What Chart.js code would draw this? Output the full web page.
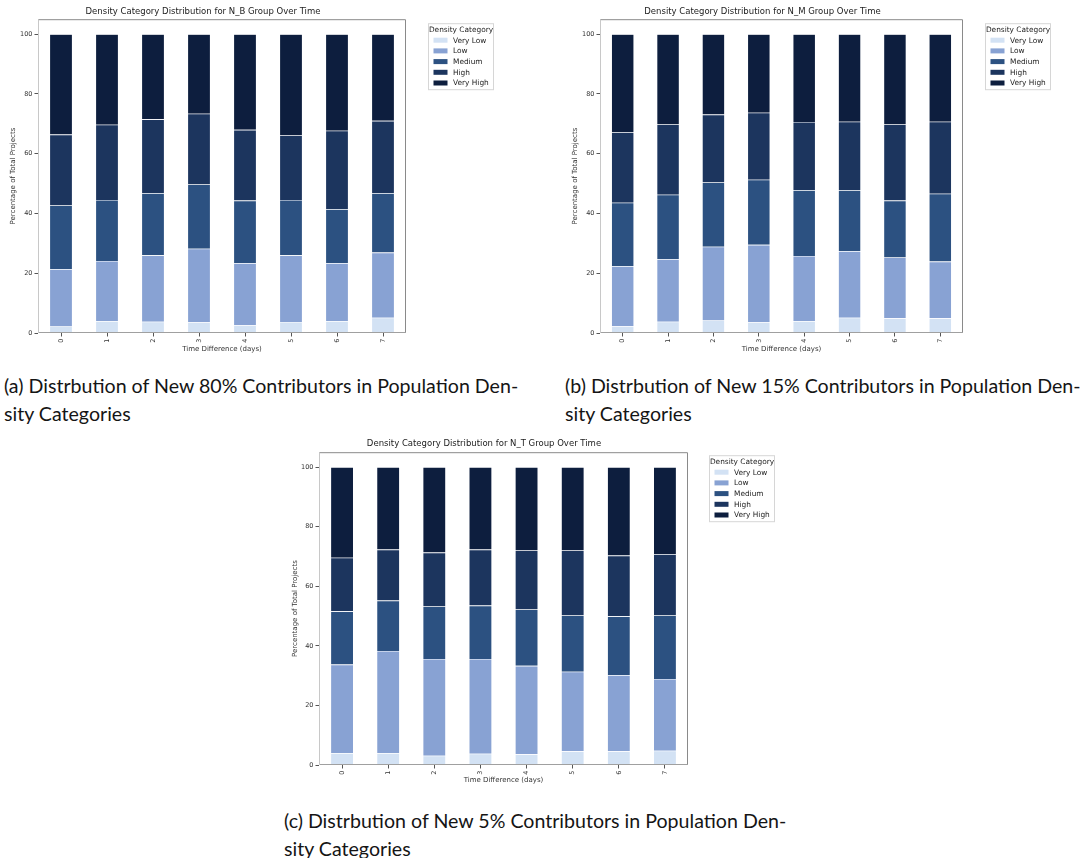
<!DOCTYPE html>
<html>
<head>
<meta charset="utf-8">
<script src="https://cdn.jsdelivr.net/npm/chart.js@4.4.1/dist/chart.umd.min.js"></script>
<style>
  body { margin: 0; background: #fff; width: 1086px; height: 858px; position: relative; overflow: hidden; }
  .box { position: absolute; }
  .cap { position: absolute; font-family: Lato, "Noto Sans", sans-serif; font-size: 19.6px; line-height: 28px; color: #151515; white-space: nowrap; }
</style>
</head>
<body>
<div class="box" style="left:0px;top:0px;width:540px;height:360px"><canvas id="chartB" width="540" height="360"></canvas></div>
<div class="box" style="left:540px;top:0px;width:546px;height:360px"><canvas id="chartM" width="546" height="360"></canvas></div>
<div class="box" style="left:280px;top:430px;width:540px;height:360px"><canvas id="chartT" width="540" height="360"></canvas></div>

<div class="cap" style="left:4px;top:372px">(a) Distrbution of New 80% Contributors in Population Den-</div>
<div class="cap" style="left:4px;top:400px">sity Categories</div>
<div class="cap" style="left:565px;top:372px">(b) Distrbution of New 15% Contributors in Population Den-</div>
<div class="cap" style="left:565px;top:400px">sity Categories</div>
<div class="cap" style="left:284px;top:807px">(c) Distrbution of New 5% Contributors in Population Den-</div>
<div class="cap" style="left:284px;top:835px">sity Categories</div>

<script>
// x categories (days)
var days = ['0', '1', '2', '3', '4', '5', '6', '7'];
var categories = ['Very Low', 'Low', 'Medium', 'High', 'Very High'];
var colors = ['#d3e2f4', '#88a2d3', '#2c5181', '#1c355e', '#0d1e3e'];
var yTicks = [0, 20, 40, 60, 80, 100];

// N_B group, percentage per density category
var nbVeryLow  = [2.2, 4.0, 3.8, 3.6, 2.6, 3.7, 4.0, 5.1];
var nbLow      = [19.2, 20.1, 22.2, 24.6, 20.8, 22.3, 19.4, 21.8];
var nbMedium   = [21.3, 20.4, 20.8, 21.5, 20.9, 18.5, 18.0, 19.9];
var nbHigh     = [23.7, 25.2, 24.7, 23.7, 23.7, 21.6, 26.3, 24.2];
var nbVeryHigh = [33.6, 30.3, 28.5, 26.6, 32.0, 33.9, 32.3, 29.0];

// N_M group
var nmVeryLow  = [2.3, 3.8, 4.2, 3.6, 4.0, 5.1, 4.9, 4.9];
var nmLow      = [20.1, 20.9, 24.7, 25.9, 21.8, 22.3, 20.4, 19.0];
var nmMedium   = [21.2, 21.6, 21.5, 21.8, 22.0, 20.4, 19.0, 22.7];
var nmHigh     = [23.6, 23.5, 22.7, 22.4, 22.8, 22.9, 25.5, 24.1];
var nmVeryHigh = [32.8, 30.2, 26.9, 26.3, 29.4, 29.3, 30.2, 29.3];

// N_T group
var ntVeryLow  = [4.0, 4.0, 3.1, 3.8, 3.6, 4.6, 4.6, 4.8];
var ntLow      = [29.7, 34.3, 32.5, 31.8, 29.7, 26.7, 25.6, 24.1];
var ntMedium   = [17.9, 16.9, 17.6, 17.9, 18.9, 18.9, 19.7, 21.3];
var ntHigh     = [18.0, 17.1, 18.1, 18.8, 19.8, 21.8, 20.4, 20.6];
var ntVeryHigh = [30.4, 27.7, 28.7, 27.7, 28.0, 28.0, 29.7, 29.2];

var FONT = 'DejaVu Sans';

// box around the plot, like matplotlib spines
var framePlugin = {
  id: 'frame',
  afterDatasetsDraw: function(chart) {
    var a = chart.chartArea, ctx = chart.ctx;
    ctx.save();
    ctx.lineWidth = 1;
    ctx.strokeStyle = '#8a8a8a';
    ctx.beginPath();
    ctx.moveTo(a.left, a.top + 0.5);
    ctx.lineTo(a.right - 0.5, a.top + 0.5);
    ctx.lineTo(a.right - 0.5, a.bottom - 0.5);
    ctx.stroke();
    ctx.strokeStyle = '#a0a0a0';
    ctx.beginPath();
    ctx.moveTo(a.right, a.bottom - 0.5);
    ctx.lineTo(a.left + 0.5, a.bottom - 0.5);
    ctx.stroke();
    ctx.strokeStyle = '#c8c8c8';
    ctx.beginPath();
    ctx.moveTo(a.left + 0.5, a.bottom);
    ctx.lineTo(a.left + 0.5, a.top);
    ctx.stroke();
    ctx.restore();
  }
};

// legend box outside the plot on the right
var boxLegend = {
  id: 'boxLegend',
  afterDraw: function(chart, args, opts) {
    var a = chart.chartArea, ctx = chart.ctx;
    var x = a.right + opts.gap, y = a.top + opts.dy;
    var w = 65, h = 66;
    ctx.save();
    ctx.fillStyle = '#fff';
    ctx.strokeStyle = '#d6d6d6';
    ctx.lineWidth = 1;
    ctx.fillRect(x, y, w, h);
    ctx.strokeRect(x + 0.5, y + 0.5, w, h);
    ctx.fillStyle = '#222';
    ctx.font = '7.4px "' + FONT + '"';
    ctx.textBaseline = 'middle';
    ctx.textAlign = 'center';
    ctx.fillText('Density Category', x + w / 2 + 0.5, y + 6.5);
    ctx.textAlign = 'left';
    chart.data.datasets.forEach(function(ds, i) {
      var cy = y + 17 + i * 10.7;
      ctx.fillStyle = ds.backgroundColor;
      ctx.fillRect(x + 5.5, cy - 2.5, 14, 5);
      ctx.fillStyle = '#222';
      ctx.fillText(ds.label, x + 25, cy + 0.5);
    });
    ctx.restore();
  }
};

function makeChart(id, title, series, lay) {
  var datasets = categories.map(function(name, i) {
    return {
      label: name,
      data: series[i],
      backgroundColor: colors[i],
      borderColor: 'rgba(255,255,255,0.25)',
      borderWidth: 0.6,
      barPercentage: 0.5,
      categoryPercentage: 1.0
    };
  });

  return new Chart(document.getElementById(id).getContext('2d'), {
    type: 'bar',
    data: { labels: days, datasets: datasets },
    plugins: [framePlugin, boxLegend],
    options: {
      responsive: false,
      animation: false,
      layout: { padding: { left: lay.padLeft, right: lay.padRight, top: lay.padTop, bottom: 0 } },
      plugins: {
        legend: { display: false },
        tooltip: { enabled: false },
        title: {
          display: true,
          text: title,
          color: '#222',
          font: { family: FONT, size: 8.5, weight: 'normal' },
          padding: { top: 0, bottom: lay.titleGap }
        },
        boxLegend: { gap: lay.legendGap, dy: lay.legendDy }
      },
      scales: {
        x: {
          stacked: true,
          offset: true,
          grid: { display: true, offset: false, drawOnChartArea: false, drawTicks: true, tickLength: 3.5, color: '#555' },
          border: { display: false },
          ticks: { minRotation: 90, maxRotation: 90, color: '#333', padding: 2, font: { family: FONT, size: 6.5 } },
          title: { display: true, text: 'Time Difference (days)', color: '#333',
                   font: { family: FONT, size: 7 }, padding: { top: 0, bottom: lay.xTitleBottom } },
          afterFit: function(s) { s.height = lay.xHeight; }
        },
        y: {
          stacked: true,
          min: 0,
          max: 105,
          grid: { display: true, drawOnChartArea: false, drawTicks: true, tickLength: 3.5, color: '#555' },
          border: { display: false },
          ticks: { stepSize: 20, color: '#333', padding: 2, font: { family: FONT, size: 6.5 } },
          afterBuildTicks: function(s) {
            s.ticks = yTicks.map(function(v) { return { value: v }; });
          },
          title: { display: true, text: 'Percentage of Total Projects', color: '#333',
                   font: { family: FONT, size: 7 }, padding: { top: lay.yTitleLeft, bottom: 0 } },
          afterFit: function(s) { s.width = lay.yWidth; }
        }
      }
    }
  });
}

makeChart('chartB', 'Density Category Distribution for N_B Group Over Time',
  [nbVeryLow, nbLow, nbMedium, nbHigh, nbVeryHigh],
  { padLeft: 0, padRight: 134, padTop: 7, titleGap: 2, yWidth: 38, xHeight: 27,
    xTitleBottom: 7, yTitleLeft: 9, legendGap: 22, legendDy: 4 });

makeChart('chartM', 'Density Category Distribution for N_M Group Over Time',
  [nmVeryLow, nmLow, nmMedium, nmHigh, nmVeryHigh],
  { padLeft: 22, padRight: 123, padTop: 7, titleGap: 2, yWidth: 38, xHeight: 27,
    xTitleBottom: 7, yTitleLeft: 9, legendGap: 22, legendDy: 4 });

makeChart('chartT', 'Density Category Distribution for N_T Group Over Time',
  [ntVeryLow, ntLow, ntMedium, ntHigh, ntVeryHigh],
  { padLeft: 0, padRight: 132, padTop: 9, titleGap: 3, yWidth: 39, xHeight: 25,
    xTitleBottom: 6, yTitleLeft: 11, legendGap: 21, legendDy: 3 });
</script>
</body>
</html>
